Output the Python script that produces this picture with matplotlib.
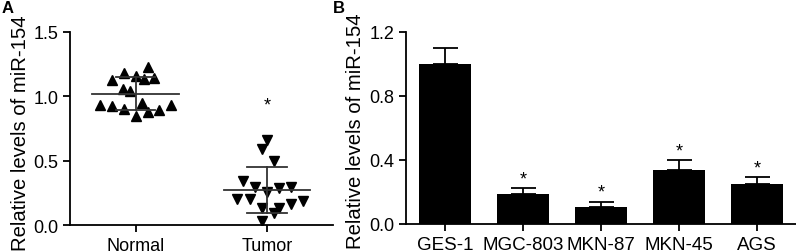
import numpy as np
import matplotlib
matplotlib.use('Agg')
import matplotlib.pyplot as plt

plt.rcParams['font.family'] = ['Liberation Sans', 'DejaVu Sans']

# panel A: individual samples
groups = ['Normal', 'Tumor']
normal = [0.934, 1.129, 1.183, 1.157, 1.131, 1.230, 1.142, 1.059, 1.041,
          0.921, 0.903, 0.947, 0.851, 0.877, 0.895, 0.929]
normal_x = [-0.27, -0.18, -0.09, 0.0, 0.06, 0.09, 0.14, -0.10, -0.04,
            -0.18, -0.09, 0.05, 0.0, 0.09, 0.18, 0.27]
tumor = [0.657, 0.592, 0.496, 0.345, 0.293, 0.260, 0.288, 0.293, 0.202,
         0.202, 0.130, 0.091, 0.130, 0.163, 0.189, 0.034]
tumor_x = [0.0, -0.04, 0.05, -0.18, -0.09, 0.0, 0.09, 0.18, -0.23,
           -0.13, -0.04, 0.05, 0.09, 0.18, 0.27, -0.04]

# panel B: cell lines
cells = ['GES-1', 'MGC-803', 'MKN-87', 'MKN-45', 'AGS']
means = [1.0, 0.185, 0.104, 0.339, 0.250]
errs = [0.10, 0.038, 0.035, 0.06, 0.045]
sig = [False, True, True, True, True]

fig = plt.figure(figsize=(7.96, 2.53), dpi=100)

fs = 13
lfs = 14.6
lw = 1.3

# ---- A ----
ax1 = fig.add_axes([0.088, 0.1067, 0.330, 0.7629])
ax1.plot(np.array(normal_x), normal, '^', color='black', ms=6.5)
ax1.plot(1 + np.array(tumor_x), tumor, 'v', color='black', ms=6.5)
for i, d in enumerate([normal, tumor]):
    m = np.mean(d)
    s = np.std(d, ddof=1)
    ax1.plot([i - 0.33, i + 0.33], [m, m], color='#333333', lw=lw)
    ax1.plot([i - 0.15, i + 0.15], [m + s, m + s], color='#333333', lw=lw)
    ax1.plot([i - 0.15, i + 0.15], [m - s, m - s], color='#333333', lw=lw)
    ax1.plot([i, i], [m - s, m + s], color='#333333', lw=lw)
ax1.text(1, 0.87, '*', ha='center', va='bottom', fontsize=fs)
ax1.set_xlim(-0.5, 1.5)
ax1.set_ylim(0, 1.5)
ax1.set_yticks([0, 0.5, 1.0, 1.5])
ax1.set_yticklabels(['0.0', '0.5', '1.0', '1.5'])
ax1.set_xticks([0, 1])
ax1.set_xticklabels(groups)
ax1.set_ylabel('Relative levels of miR-154', fontsize=lfs)
ax1.yaxis.set_label_coords(-0.152, 0.48)

# ---- B ----
ax2 = fig.add_axes([0.510, 0.1107, 0.490, 0.7589])
x = np.arange(len(cells))
ax2.bar(x, means, width=0.67, color='black')
ax2.errorbar(x, means, yerr=[np.zeros(len(errs)), errs], fmt='none',
             ecolor='black', elinewidth=lw, capsize=9, capthick=lw)
for i in range(len(cells)):
    if sig[i]:
        ax2.text(i, means[i] + errs[i] + 0.005, '*', ha='center',
                 va='bottom', fontsize=fs)
ax2.set_xlim(-0.5, 4.5)
ax2.set_ylim(0, 1.2)
ax2.set_yticks([0, 0.4, 0.8, 1.2])
ax2.set_yticklabels(['0.0', '0.4', '0.8', '1.2'])
ax2.set_xticks(x)
ax2.set_xticklabels(cells)
ax2.set_ylabel('Relative levels of miR-154', fontsize=lfs)
ax2.yaxis.set_label_coords(-0.105, 0.49)

for ax in [ax1, ax2]:
    ax.spines['top'].set_visible(False)
    ax.spines['right'].set_visible(False)
    ax.spines['left'].set_linewidth(lw)
    ax.spines['bottom'].set_linewidth(lw)
    ax.tick_params(labelsize=fs, width=lw, length=5, direction='out')
ax2.tick_params(axis='x', labelsize=13.5)

fig.text(0.002, 0.995, 'A', fontsize=12, fontweight='bold', va='top')
fig.text(0.418, 0.995, 'B', fontsize=12, fontweight='bold', va='top')

fig.savefig('out.png', dpi=100)
